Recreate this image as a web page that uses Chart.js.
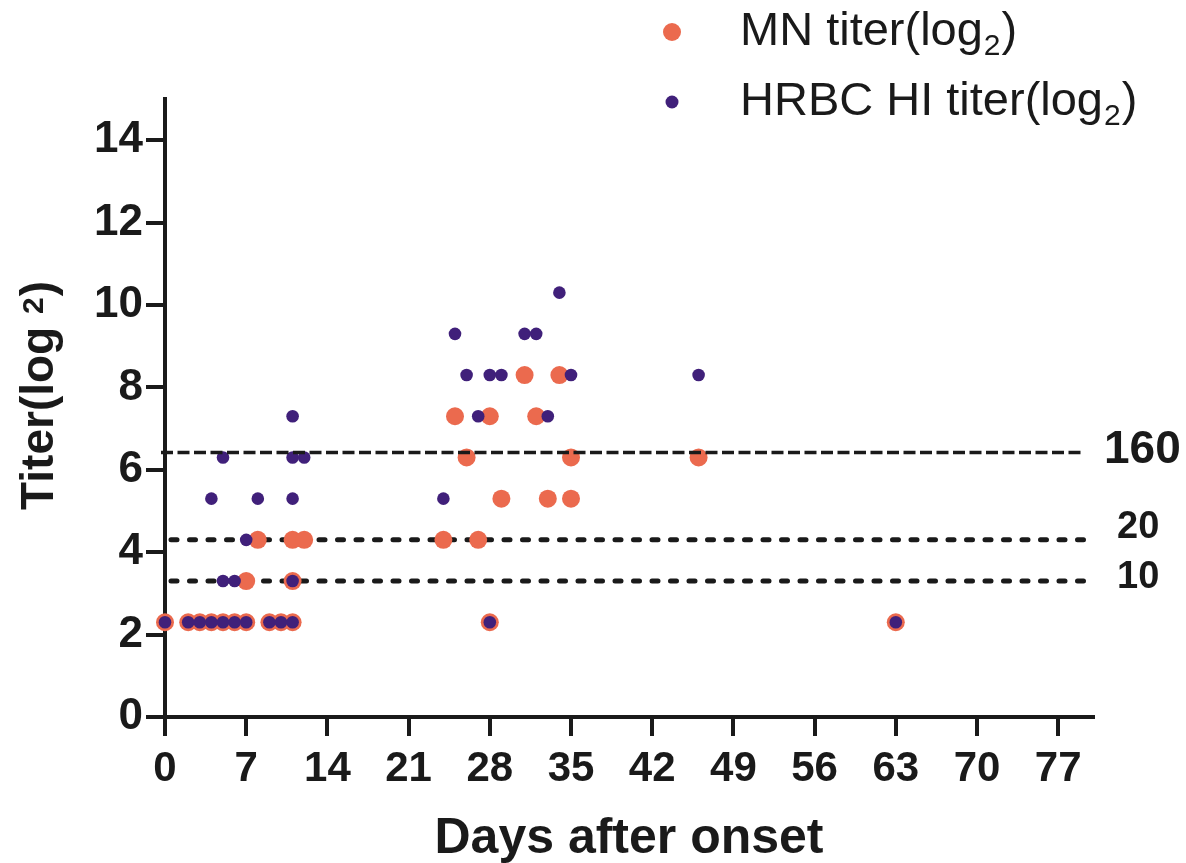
<!DOCTYPE html>
<html>
<head>
<meta charset="utf-8">
<script src="https://cdn.jsdelivr.net/npm/chart.js@4.4.0/dist/chart.umd.min.js"></script>
<style>
  html, body { margin: 0; padding: 0; background: #fff; }
  #wrap { width: 1186px; height: 863px; }
</style>
</head>
<body>
<div id="wrap"><canvas id="titer-chart" width="1186" height="863"></canvas></div>
<script>
// MN titer(log2), one entry per sample
var mnDays   = [0, 2, 3, 4, 5, 6, 7, 9, 10, 11,
                7, 11,
                8, 11, 12, 24, 27,
                25, 26, 28, 28, 29, 31, 32, 33, 34, 35, 35, 46, 63];
var mnTiters = [2.3, 2.3, 2.3, 2.3, 2.3, 2.3, 2.3, 2.3, 2.3, 2.3,
                3.3, 3.3,
                4.3, 4.3, 4.3, 4.3, 4.3,
                7.3, 6.3, 7.3, 2.3, 5.3, 8.3, 7.3, 5.3, 8.3, 6.3, 5.3, 6.3, 2.3];

// HRBC HI titer(log2)
var hiDays   = [0, 2, 3, 4, 5, 6, 7, 9, 10, 11,
                5, 6, 11,
                7,
                4, 8, 11,
                5, 11, 12,
                11,
                24, 25, 26, 27, 28, 28, 29, 31, 32, 33, 34, 35, 46, 63];
var hiTiters = [2.3, 2.3, 2.3, 2.3, 2.3, 2.3, 2.3, 2.3, 2.3, 2.3,
                3.3, 3.3, 3.3,
                4.3,
                5.3, 5.3, 5.3,
                6.3, 6.3, 6.3,
                7.3,
                5.3, 9.3, 8.3, 7.3, 8.3, 2.3, 8.3, 9.3, 9.3, 7.3, 10.3, 8.3, 8.3, 2.3];

var xTicks = [0, 7, 14, 21, 28, 35, 42, 49, 56, 63, 70, 77];
var yTicks = [0, 2, 4, 6, 8, 10, 12, 14];

// cut-off lines (log2 value) and their titer labels
var refValues = [6.42, 4.3, 3.3];
var refLabels = ["160", "20", "10"];

var seriesNames = ["MN titer(log", "HRBC HI titer(log"];

var ORANGE = "#eb6a4e";
var PURPLE = "#40207a";
var INK = "#1a1a1a";
var FONT = "Arial, 'Liberation Sans', Helvetica, sans-serif";

Chart.defaults.font.family = FONT;
Chart.defaults.color = INK;

function toPoints(xs, ys) {
  return xs.map(function(x, i) { return { x: x, y: ys[i] }; });
}

function drawRefLine(chart, i) {
  var ctx = chart.ctx;
  var xs = chart.scales.x, ys = chart.scales.y;
  var y = ys.getPixelForValue(refValues[i]);
  ctx.save();
  ctx.strokeStyle = INK;
  if (i === 0) {
    ctx.lineWidth = 3.5;
    ctx.setLineDash([12, 4.5]);
    ctx.lineCap = "butt";
    ctx.beginPath();
    ctx.moveTo(chart.chartArea.left - 4, y);
    ctx.lineTo(xs.getPixelForValue(79.3), y);
  } else {
    ctx.lineWidth = 5;
    ctx.setLineDash([6, 12.5]);
    ctx.lineCap = "round";
    ctx.beginPath();
    ctx.moveTo(chart.chartArea.left + 6, y);
    ctx.lineTo(xs.getPixelForValue(79.5), y);
  }
  ctx.stroke();
  ctx.restore();
}

var refLinePlugin = {
  id: "refLines",
  beforeDatasetsDraw: function(chart) {
    drawRefLine(chart, 1);
    drawRefLine(chart, 2);
  },
  afterDatasetsDraw: function(chart) {
    drawRefLine(chart, 0);
    var ctx = chart.ctx, ys = chart.scales.y;
    ctx.save();
    ctx.fillStyle = INK;
    ctx.textBaseline = "middle";
    ctx.textAlign = "left";
    ctx.font = "bold 46px " + FONT;
    ctx.fillText(refLabels[0], 1104, ys.getPixelForValue(refValues[0]) - 2);
    ctx.font = "bold 38px " + FONT;
    ctx.fillText(refLabels[1], 1117, ys.getPixelForValue(refValues[1]) - 12);
    ctx.fillText(refLabels[2], 1117, ys.getPixelForValue(refValues[2]) - 4);
    ctx.restore();
  }
};

var textPlugin = {
  id: "titles",
  afterDraw: function(chart) {
    var ctx = chart.ctx;
    ctx.save();
    ctx.fillStyle = INK;

    // x axis title
    ctx.font = "bold 50px " + FONT;
    ctx.textAlign = "center";
    ctx.textBaseline = "alphabetic";
    ctx.fillText("Days after onset", (chart.chartArea.left + chart.chartArea.right) / 2, 853);

    // y axis title, rotated, with the small 2
    ctx.translate(53, 396);
    ctx.rotate(-Math.PI / 2);
    ctx.textAlign = "left";
    ctx.font = "bold 46px " + FONT;
    var a = "Titer(log ", b = "2", c = ")";
    var wa = ctx.measureText(a).width, wc = ctx.measureText(c).width;
    ctx.font = "bold 30px " + FONT;
    var wb = ctx.measureText(b).width;
    var x0 = -(wa + wb + wc) / 2;
    ctx.font = "bold 46px " + FONT;
    ctx.fillText(a, x0, 0);
    ctx.font = "bold 30px " + FONT;
    ctx.fillText(b, x0 + wa, -10);
    ctx.font = "bold 46px " + FONT;
    ctx.fillText(c, x0 + wa + wb + 1, 0);
    ctx.setTransform(1, 0, 0, 1, 0, 0);

    // legend
    var rows = [{ y: 45, color: ORANGE, r: 9 }, { y: 115, color: PURPLE, r: 6.5 }];
    rows.forEach(function(row, i) {
      ctx.fillStyle = row.color;
      ctx.beginPath();
      ctx.arc(672, row.y - 13, row.r, 0, Math.PI * 2);
      ctx.fill();
      ctx.fillStyle = INK;
      ctx.font = "47px " + FONT;
      ctx.fillText(seriesNames[i], 740, row.y);
      var w = ctx.measureText(seriesNames[i]).width;
      ctx.font = "30px " + FONT;
      ctx.fillText("2", 740 + w + 1, row.y + 10);
      var w2 = ctx.measureText("2").width;
      ctx.font = "47px " + FONT;
      ctx.fillText(")", 740 + w + w2 + 2, row.y);
    });
    ctx.restore();
  }
};

new Chart("titer-chart", {
  type: "scatter",
  data: {
    datasets: [{
      label: "MN",
      data: toPoints(mnDays, mnTiters),
      backgroundColor: ORANGE,
      borderWidth: 0,
      pointRadius: 9,
      order: 2,
      clip: false
    }, {
      label: "HRBC HI",
      data: toPoints(hiDays, hiTiters),
      backgroundColor: PURPLE,
      borderWidth: 0,
      pointRadius: 6.3,
      order: 1,
      clip: false
    }]
  },
  options: {
    responsive: false,
    animation: false,
    layout: { padding: { top: 99, right: 93, left: 0, bottom: 0 } },
    plugins: {
      legend: { display: false },
      tooltip: { enabled: false }
    },
    scales: {
      x: {
        type: "linear",
        min: 0,
        max: 80,
        afterBuildTicks: function(s) { s.ticks = xTicks.map(function(v) { return { value: v }; }); },
        afterFit: function(s) { s.height = 146; },
        border: { display: true, width: 4, color: INK },
        grid: { drawOnChartArea: false, drawTicks: true, tickLength: 19, lineWidth: 4, color: INK },
        ticks: { padding: 8, font: { size: 42, weight: "bold" }, color: INK, maxRotation: 0 }
      },
      y: {
        type: "linear",
        min: 0,
        max: 15,
        afterBuildTicks: function(s) { s.ticks = yTicks.map(function(v) { return { value: v }; }); },
        afterFit: function(s) { s.width = 165; },
        border: { display: true, width: 4, color: INK },
        grid: { drawOnChartArea: false, drawTicks: true, tickLength: 19, lineWidth: 4, color: INK },
        ticks: { padding: 3, font: { size: 44, weight: "bold" }, color: INK }
      }
    }
  },
  plugins: [refLinePlugin, textPlugin]
});
</script>
</body>
</html>
